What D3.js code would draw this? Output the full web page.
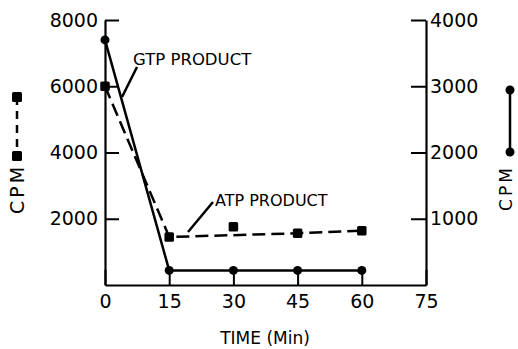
<!DOCTYPE html>
<html>
<head>
<meta charset="utf-8">
<script src="https://cdn.jsdelivr.net/npm/d3@7"></script>
<style>
  body { margin: 0; background: #fff; }
  svg { display: block; }
  text { font-family: "DejaVu Sans", sans-serif; fill: #000; }
</style>
</head>
<body>
<div id="chart"></div>
<script>
// data
var times = [0, 15, 30, 45, 60];
var atpCpm = [6000, 1450, 1760, 1560, 1640];   // dashed, squares, left axis
var gtpCpm = [3700, 220, 220, 220, 220];       // solid, circles, right axis
var atpLineTimes = [0, 15, 45, 60];            // dashed line skips the 30 min point
var xTicks = [0, 15, 30, 45, 60, 75];
var leftTicks = [2000, 4000, 6000, 8000];
var rightTicks = [1000, 2000, 3000, 4000];

var width = 518, height = 349;

var svg = d3.select("#chart").append("svg")
    .attr("width", width)
    .attr("height", height);

var x = d3.scaleLinear().domain([0, 75]).range([105, 426]);
var yL = d3.scaleLinear().domain([0, 8000]).range([285, 20]);
var yR = d3.scaleLinear().domain([0, 4000]).range([285, 20]);

// axes
var xAxis = svg.append("g")
    .attr("transform", "translate(0," + yL(0) + ")")
    .call(d3.axisBottom(x).tickValues(xTicks).tickSize(-15).tickSizeOuter(0).tickPadding(9));

var lAxis = svg.append("g")
    .attr("transform", "translate(" + x(0) + ",0)")
    .call(d3.axisLeft(yL).tickValues(leftTicks).tickFormat(d3.format("d"))
        .tickSize(-14).tickSizeOuter(0).tickPadding(7));

var rAxis = svg.append("g")
    .attr("transform", "translate(" + x(75) + ",0)")
    .call(d3.axisRight(yR).tickValues(rightTicks).tickFormat(d3.format("d"))
        .tickSize(-15).tickSizeOuter(0).tickPadding(4));

[xAxis, lAxis, rAxis].forEach(function(a) {
    a.selectAll("path.domain").attr("stroke", "#000").attr("stroke-width", 2.2);
    a.selectAll(".tick line").attr("stroke", "#000").attr("stroke-width", 2);
    a.selectAll(".tick text").style("font-size", "19px").attr("fill", "#000");
});
xAxis.selectAll(".tick text").attr("dy", "0.75em");

// GTP product: solid line, circles
var gtp = times.map(function(t, i) { return [t, gtpCpm[i]]; });
var gtpLine = d3.line().x(d => x(d[0])).y(d => yR(d[1]));
svg.append("path")
    .datum(gtp)
    .attr("d", gtpLine)
    .attr("fill", "none")
    .attr("stroke", "#000")
    .attr("stroke-width", 2.5);

svg.selectAll("circle.gtp")
    .data(gtp)
    .enter().append("circle")
    .attr("class", "gtp")
    .attr("cx", d => x(d[0]))
    .attr("cy", d => yR(d[1]))
    .attr("r", 4.5)
    .attr("fill", "#000");

// ATP product: dashed line, squares
var atp = times.map(function(t, i) { return [t, atpCpm[i]]; });
var atpLineData = atp.filter(d => atpLineTimes.indexOf(d[0]) >= 0);
var atpLine = d3.line().x(d => x(d[0])).y(d => yL(d[1]));
svg.append("path")
    .datum(atpLineData)
    .attr("d", atpLine)
    .attr("fill", "none")
    .attr("stroke", "#000")
    .attr("stroke-width", 2.5)
    .attr("stroke-dasharray", "13,6");

var sq = 9.5;
svg.selectAll("rect.atp")
    .data(atp)
    .enter().append("rect")
    .attr("class", "atp")
    .attr("x", d => x(d[0]) - sq / 2)
    .attr("y", d => yL(d[1]) - sq / 2)
    .attr("width", sq)
    .attr("height", sq)
    .attr("rx", 1.5)
    .attr("fill", "#000");

// annotations
svg.append("text")
    .attr("x", 133).attr("y", 65)
    .style("font-size", "16.5px")
    .text("GTP PRODUCT");
svg.append("line")
    .attr("x1", 137).attr("y1", 67)
    .attr("x2", 122).attr("y2", 97)
    .attr("stroke", "#000").attr("stroke-width", 2.5);

svg.append("text")
    .attr("x", 215).attr("y", 206)
    .style("font-size", "16px")
    .text("ATP PRODUCT");
svg.append("line")
    .attr("x1", 213).attr("y1", 202)
    .attr("x2", 188).attr("y2", 232)
    .attr("stroke", "#000").attr("stroke-width", 2.5);

// x axis title
svg.append("text")
    .attr("x", 265).attr("y", 344)
    .attr("text-anchor", "middle")
    .style("font-size", "17px")
    .text("TIME (Min)");

// left axis legend key + title
svg.append("line")
    .attr("x1", 17).attr("y1", 97)
    .attr("x2", 17).attr("y2", 156)
    .attr("stroke", "#000").attr("stroke-width", 2.5)
    .attr("stroke-dasharray", "8,6");
[97, 156].forEach(function(yy) {
    svg.append("rect")
        .attr("x", 17 - 5).attr("y", yy - 5)
        .attr("width", 10).attr("height", 10)
        .attr("rx", 1.5)
        .attr("fill", "#000");
});
svg.append("text")
    .attr("transform", "translate(24,189) rotate(-90)")
    .attr("text-anchor", "middle")
    .style("font-size", "19px")
    .style("letter-spacing", "3px")
    .text("CPM");

// right axis legend key + title
svg.append("line")
    .attr("x1", 510).attr("y1", 90)
    .attr("x2", 510).attr("y2", 152)
    .attr("stroke", "#000").attr("stroke-width", 2.5);
[90, 152].forEach(function(yy) {
    svg.append("circle")
        .attr("cx", 510).attr("cy", yy)
        .attr("r", 4.5)
        .attr("fill", "#000");
});
svg.append("text")
    .attr("transform", "translate(512,188) rotate(-90)")
    .attr("text-anchor", "middle")
    .style("font-size", "17px")
    .style("letter-spacing", "3px")
    .text("CPM");
</script>
</body>
</html>
